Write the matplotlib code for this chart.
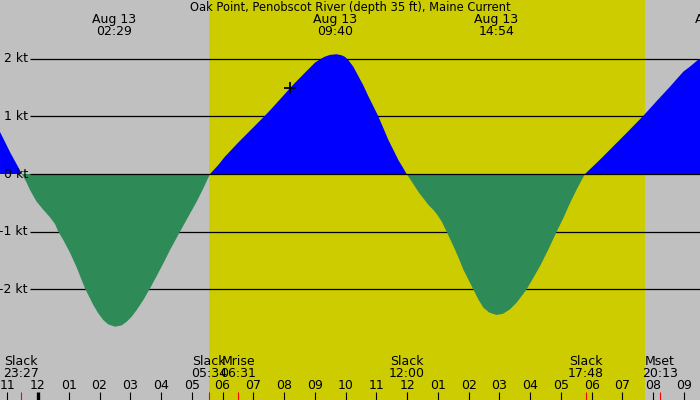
import matplotlib
matplotlib.use("Agg")
import matplotlib.pyplot as plt
import matplotlib.transforms as mtransforms
import numpy as np

# current speed (kt) against hours from midnight Aug 13
hours = [-1.235, -0.9, -0.52,
         -0.369, -0.26, -0.152, -0.043, 0.065, 0.173, 0.282, 0.390, 0.553, 0.661,
         0.824, 1.040, 1.257, 1.528, 1.636, 1.799, 1.961, 2.124, 2.286, 2.503,
         2.720, 2.883, 3.045, 3.208, 3.424, 3.641, 3.858, 4.075, 4.291, 4.616,
         4.887, 5.158, 5.375, 5.592,
         5.863, 6.079, 6.296, 6.513, 6.730, 6.947, 7.163, 7.380, 7.597, 7.813,
         8.030, 8.203, 8.409, 8.572, 8.788, 9.005, 9.168, 9.330, 9.493, 9.710,
         9.872, 9.980, 10.089, 10.251, 10.414, 10.577, 10.739, 10.902, 11.064,
         11.227, 11.389, 11.552, 11.714, 11.877, 11.985,
         12.115, 12.256, 12.397, 12.527, 12.690, 12.852, 12.982, 13.123, 13.286,
         13.416, 13.557, 13.697, 13.827, 13.990, 14.153, 14.315, 14.478, 14.673,
         14.911, 15.128, 15.345, 15.561, 15.886, 16.103, 16.320, 16.591, 16.862,
         17.079, 17.295, 17.534, 17.783,
         18.271, 18.704, 19.138, 19.680, 20.113, 20.546, 20.980, 21.196, 21.467,
         21.55]
speed = [0.73, 0.37, 0.0,
         -0.150, -0.277, -0.380, -0.480, -0.550, -0.620, -0.685, -0.751, -0.867, -1.0,
         -1.145, -1.364, -1.618, -1.983, -2.098, -2.272, -2.416, -2.532, -2.607, -2.647,
         -2.624, -2.561, -2.474, -2.358, -2.185, -1.983, -1.769, -1.549, -1.318, -1.0,
         -0.740, -0.480, -0.249, 0.0,
         0.157, 0.302, 0.424, 0.547, 0.663, 0.779, 0.895, 1.012, 1.134, 1.262,
         1.390, 1.494, 1.610, 1.698, 1.814, 1.930, 1.988, 2.035, 2.064, 2.076,
         2.058, 2.030, 1.975, 1.860, 1.698, 1.535, 1.349, 1.174, 1.000,
         0.797, 0.593, 0.419, 0.244, 0.099, 0.0,
         -0.103, -0.218, -0.333, -0.420, -0.534, -0.621, -0.707, -0.822, -1.0,
         -1.149, -1.310, -1.483, -1.655, -1.828, -2.0, -2.172, -2.316, -2.402,
         -2.443, -2.420, -2.345, -2.230, -2.0, -1.799, -1.598, -1.310, -1.0,
         -0.764, -0.506, -0.247, 0.0,
         0.249, 0.481, 0.713, 1.009, 1.264, 1.513, 1.774, 1.861, 1.983,
         2.0]

# max / min current labels at the top
peak_hours = [2.483, 9.667, 14.9, 22.07]
peak_labels = ["Aug 13\n02:29", "Aug 13\n09:40", "Aug 13\n14:54", "Aug 13\n22:04"]

# events along the bottom
event_hours = [-0.55, 5.567, 6.517, 12.0, 17.8, 20.217]
event_names = ["Slack", "Slack", "Mrise", "Slack", "Slack", "Mset"]
event_times = ["23:27", "05:34", "06:31", "12:00", "17:48", "20:13"]

sunrise, sunset = 5.567, 19.73
now_hour, now_speed = 8.20, 1.49
grid_kt = [2, 1, 0, -1, -2]
title = "Oak Point, Penobscot River (depth 35 ft), Maine Current"

x0, x1 = -1.2354, 21.522
y0, y1 = -3.917, 3.016

fig = plt.figure(figsize=(7, 4), dpi=100)
ax = fig.add_axes([0, 0, 1, 1])
ax.set_xlim(x0, x1)
ax.set_ylim(y0, y1)
ax.axis("off")
fig.patch.set_facecolor("#c0c0c0")

ax.axvspan(sunrise, sunset, color="#cccc00", lw=0, zorder=0)

t = np.array(hours)
v = np.array(speed)
ax.fill_between(t, 0, v, where=v >= 0, interpolate=True, color="#0000ff", lw=0, zorder=2)
ax.fill_between(t, 0, v, where=v <= 0, interpolate=True, color="#2e8b57", lw=0, zorder=2)

fs = 9
grid_start = x0 + 30 / 700 * (x1 - x0)
lab_x = x0 + 28 / 700 * (x1 - x0)
for k in grid_kt:
    ax.hlines(k, grid_start, x1, color="black", lw=0.9, zorder=1 if k else 3)
    ax.text(lab_x, k, f"{k} kt", ha="right", va="center", fontsize=fs, zorder=4)

ax.plot([now_hour], [now_speed], marker="+", ms=9, mew=1.3, color="black", zorder=5)

trans = mtransforms.blended_transform_factory(ax.transData, ax.transAxes)

def py(p):
    # pixel row from the top -> axes fraction
    return 1 - p / 400

ax.text(sum([x0, x1]) / 2, py(8), title, ha="center", va="center", fontsize=8.3,
        transform=trans)
for h, lab in zip(peak_hours, peak_labels):
    top, bot = lab.split("\n")
    ax.text(h, py(20), top, ha="center", va="center", fontsize=fs, transform=trans)
    ax.text(h, py(31.5), bot, ha="center", va="center", fontsize=fs, transform=trans)

for h, name, tm in zip(event_hours, event_names, event_times):
    ax.text(h, py(361.5), name, ha="center", va="center", fontsize=fs, transform=trans)
    ax.text(h, py(373.5), tm, ha="center", va="center", fontsize=fs, transform=trans)
    ax.plot([h, h], [py(392), py(400)], color="red", lw=0.8, transform=trans,
            solid_capstyle="butt")

for h in range(-1, 22):
    lab = f"{(h % 12) or 12:02d}"
    ax.text(h, py(385.5), lab, ha="center", va="center", fontsize=fs, transform=trans)
    ax.plot([h, h], [py(392), py(400)], color="black",
            lw=2.4 if h == 0 else 0.8, transform=trans, solid_capstyle="butt")

fig.savefig("out.png", dpi=100, facecolor=fig.get_facecolor())
